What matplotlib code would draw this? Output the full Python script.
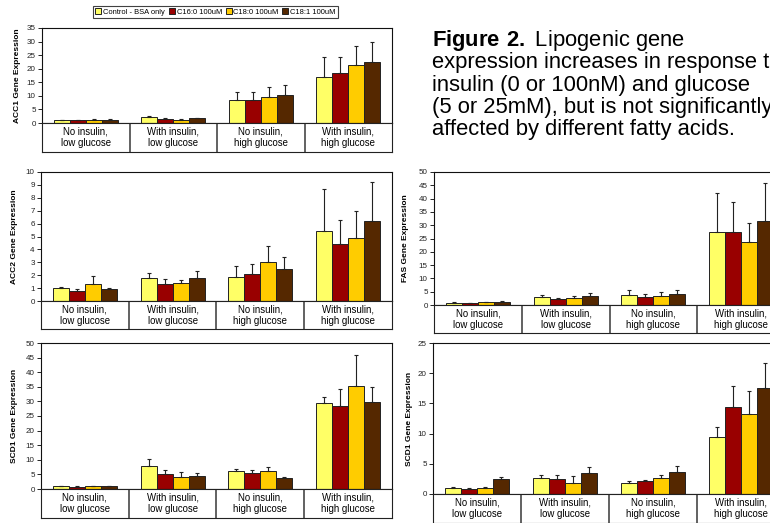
import numpy as np
import matplotlib
matplotlib.use('Agg')
import matplotlib.pyplot as plt
from matplotlib.patches import Patch

plt.rcParams['font.family'] = ['Liberation Sans', 'DejaVu Sans']
plt.rcParams['mathtext.fontset'] = 'custom'
plt.rcParams['mathtext.rm'] = 'Liberation Sans'
plt.rcParams['mathtext.bf'] = 'Liberation Sans:bold'

W, H = 770, 523

conditions = ['No insulin,\nlow glucose', 'With insulin,\nlow glucose',
              'No insulin,\nhigh glucose', 'With insulin,\nhigh glucose']
treatments = ['Control - BSA only', 'C16:0 100uM', 'C18:0 100uM', 'C18:1 100uM']
colors = ['#FFFF66', '#990000', '#FFCC00', '#552800']

# rows = treatments, cols = conditions; err = upper error bar
acc1_mean = [[1.0, 2.2, 8.6, 17.0],
             [1.0, 1.6, 8.4, 18.4],
             [1.2, 1.1, 9.5, 21.3],
             [1.2, 1.7, 10.4, 22.4]]
acc1_err = [[0.2, 0.3, 2.9, 7.2],
            [0.2, 0.4, 3.0, 6.0],
            [0.2, 0.2, 3.8, 7.0],
            [0.2, 0.3, 3.7, 7.5]]

acc2_mean = [[1.0, 1.8, 1.85, 5.4],
             [0.8, 1.3, 2.1, 4.45],
             [1.35, 1.4, 3.0, 4.9],
             [0.9, 1.8, 2.5, 6.2]]
acc2_err = [[0.05, 0.35, 0.85, 3.3],
            [0.1, 0.4, 0.8, 1.8],
            [0.6, 0.2, 1.25, 2.05],
            [0.1, 0.55, 0.9, 3.0]]

scd1a_mean = [[1.0, 8.0, 6.05, 29.4],
              [0.8, 5.3, 5.4, 28.4],
              [0.9, 4.0, 6.05, 35.2],
              [0.9, 4.35, 3.8, 29.7]]
scd1a_err = [[0.1, 2.2, 0.95, 2.1],
             [0.1, 1.1, 1.0, 5.8],
             [0.1, 1.8, 1.35, 10.6],
             [0.1, 1.25, 0.4, 5.2]]

fas_mean = [[0.9, 3.1, 3.6, 27.6],
            [0.6, 2.3, 3.1, 27.4],
            [1.1, 2.6, 3.4, 23.6],
            [1.3, 3.3, 4.0, 31.4]]
fas_err = [[0.2, 0.8, 2.2, 14.6],
           [0.1, 0.5, 1.2, 11.4],
           [0.2, 0.8, 1.4, 7.3],
           [0.2, 1.1, 1.8, 14.6]]

scd1b_mean = [[1.05, 2.7, 1.8, 9.4],
              [0.9, 2.5, 2.2, 14.4],
              [1.05, 1.9, 2.7, 13.2],
              [2.5, 3.4, 3.6, 17.5]]
scd1b_err = [[0.1, 0.4, 0.35, 1.65],
             [0.1, 0.6, 0.2, 3.5],
             [0.15, 1.0, 0.45, 3.8],
             [0.25, 1.0, 1.0, 4.2]]

caption = [r'$\bf{Figure\ 2.}\;$Lipogenic gene',
           'expression increases in response to',
           'insulin (0 or 100nM) and glucose',
           '(5 or 25mM), but is not significantly',
           'affected by different fatty acids.']


def px_box(left, right, top, bottom):
    return [left / W, 1 - bottom / H, (right - left) / W, (bottom - top) / H]


def draw_panel(fig, mean, err, ylabel, ymax, ystep, left, right, top, zero, tbot, ylab_x):
    ax = fig.add_axes(px_box(left, right, top, zero))
    x = np.arange(len(conditions))
    w = 0.183
    for i, (m, e) in enumerate(zip(mean, err)):
        xs = x + (i - 1.5) * w
        ax.bar(xs, m, w, color=colors[i], edgecolor='#222222', linewidth=0.7, zorder=2)
        ax.errorbar(xs, m, yerr=[np.zeros(len(e)), e], fmt='none', ecolor='#222222',
                    elinewidth=0.8, capsize=1.6, capthick=0.8, zorder=3)
    ax.set_xlim(-0.5, 3.5)
    ax.set_ylim(0, ymax)
    ax.set_yticks(np.arange(0, ymax + 0.01, ystep))
    ax.set_xticks([])
    ax.tick_params(axis='y', direction='out', length=3, width=0.7,
                   labelsize=5.8, pad=1.5, colors='#222222')
    for sp in ax.spines.values():
        sp.set_color('#111111')
        sp.set_linewidth(0.8)
    fig.text(ylab_x / W, 1 - (top + zero) / 2 / H, ylabel, rotation=90,
             ha='center', va='center', fontsize=6, fontweight='bold')

    tax = fig.add_axes(px_box(left, right, zero, tbot))
    tax.set_xlim(-0.5, 3.5)
    tax.set_ylim(0, 1)
    tax.set_xticks([])
    tax.set_yticks([])
    for sp in tax.spines.values():
        sp.set_color('#222222')
        sp.set_linewidth(0.8)
    for b in [0.5, 1.5, 2.5]:
        tax.axvline(b, color='#555555', lw=1.3)
    for i, c in enumerate(conditions):
        tax.text(i, 0.5, c, ha='center', va='center', fontsize=6.9, linespacing=1.15)
    return ax


fig = plt.figure(figsize=(W / 100, H / 100), dpi=100)
fig.patch.set_facecolor('white')

draw_panel(fig, acc1_mean, acc1_err, 'ACC1 Gene Expression', 35, 5,
           42, 392, 28, 123, 152, 18)
draw_panel(fig, acc2_mean, acc2_err, 'ACC2 Gene Expression', 10, 1,
           41, 392, 172, 301, 329, 15)
draw_panel(fig, scd1a_mean, scd1a_err, 'SCD1 Gene Expression', 50, 5,
           41, 392, 343, 489, 518, 15)
draw_panel(fig, fas_mean, fas_err, 'FAS Gene Expression', 50, 5,
           434, 785, 172, 305, 333, 406)
draw_panel(fig, scd1b_mean, scd1b_err, 'SCD1 Gene Expression', 25, 5,
           433, 785, 343, 494, 523, 410)

handles = [Patch(facecolor=c, edgecolor='#222222', linewidth=0.7) for c in colors]
leg = fig.legend(handles, treatments, loc='center', ncol=4,
                 bbox_to_anchor=(215.5 / W, 1 - 12 / H), fontsize=5.4,
                 handlelength=0.8, handleheight=0.8, handletextpad=0.25,
                 columnspacing=0.5, borderpad=0.25, borderaxespad=0,
                 fancybox=False, frameon=True)
leg.get_frame().set_edgecolor('#111111')
leg.get_frame().set_linewidth(0.8)

# caption runs off the right edge, as in the source figure
baselines = [46, 68, 90.5, 113, 135]
for line, yb in zip(caption, baselines):
    fig.text(432 / W, 1 - yb / H, line, ha='left', va='baseline', fontsize=15.8)

fig.savefig('out.png', dpi=100, facecolor='white')
